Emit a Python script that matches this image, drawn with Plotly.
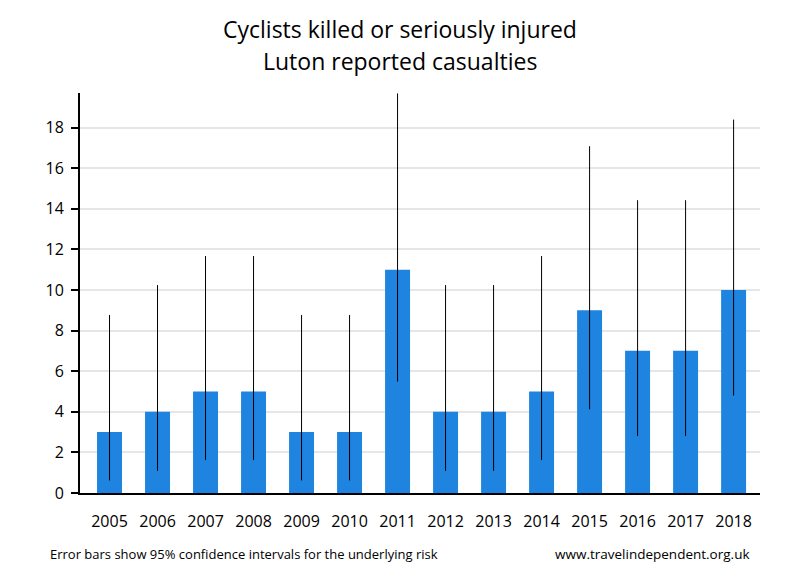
import plotly.graph_objects as go

years = ["2005", "2006", "2007", "2008", "2009", "2010", "2011",
         "2012", "2013", "2014", "2015", "2016", "2017", "2018"]
casualties = [3, 4, 5, 5, 3, 3, 11, 4, 4, 5, 9, 7, 7, 10]
ci_upper = [8.77, 10.24, 11.67, 11.67, 8.77, 8.77, 19.68,
            10.24, 10.24, 11.67, 17.08, 14.42, 14.42, 18.39]
ci_lower = [0.62, 1.09, 1.62, 1.62, 0.62, 0.62, 5.49,
            1.09, 1.09, 1.62, 4.12, 2.81, 2.81, 4.80]
y_ticks = [0, 2, 4, 6, 8, 10, 12, 14, 16, 18]

err_plus = [u - v for u, v in zip(ci_upper, casualties)]
err_minus = [v - l for v, l in zip(casualties, ci_lower)]

FONT = "Open Sans"
OFF = 8  # page body margin offset
W, H = 800 - OFF, 580 - OFF
L, R, T, B = 80 - OFF, 40, 93 - OFF, 87

fig = go.Figure()
fig.add_trace(go.Bar(
    x=years, y=casualties,
    marker=dict(color="#1f83e0", line=dict(width=0)),
    width=0.52,
    error_y=dict(type="data", symmetric=False, array=err_plus, arrayminus=err_minus,
                 width=0, thickness=1, color="black"),
    hoverinfo="x+y",
))

fig.update_layout(
    width=W, height=H,
    margin=dict(l=L, r=R, t=T, b=B),
    paper_bgcolor="white", plot_bgcolor="white",
    showlegend=False,
    font=dict(family=FONT, color="black"),
    xaxis=dict(
        type="category", range=[-0.615, 13.55],
        showline=True, linecolor="black", linewidth=2,
        showgrid=False, ticks="", ticklabelstandoff=13,
        tickfont=dict(size=16, family=FONT, color="black"),
    ),
    yaxis=dict(
        range=[0, 19.7], tickvals=y_ticks,
        showline=True, linecolor="black", linewidth=2,
        showgrid=True, gridcolor="#e6e6e6", gridwidth=2,
        ticks="outside", ticklen=7, tickwidth=2, tickcolor="black",
        ticklabelstandoff=4,
        zeroline=False,
        tickfont=dict(size=16, family=FONT, color="black"),
    ),
)

# place text using reference pixel coordinates
def px_x(px):
    return (px - OFF - L) / (W - L - R)

def px_y(py):
    return (H - B - (py - OFF)) / (H - T - B)

fig.add_annotation(text="Cyclists killed or seriously injured", x=px_x(400), y=px_y(29),
                   xref="paper", yref="paper", xanchor="center", yanchor="middle",
                   showarrow=False, font=dict(size=23, family=FONT, color="black"))
fig.add_annotation(text="Luton reported casualties", x=px_x(400), y=px_y(61),
                   xref="paper", yref="paper", xanchor="center", yanchor="middle",
                   showarrow=False, font=dict(size=23, family=FONT, color="black"))
fig.add_annotation(text="Error bars show 95% confidence intervals for the underlying risk",
                   x=px_x(48), y=px_y(554), xref="paper", yref="paper",
                   xanchor="left", yanchor="middle", showarrow=False,
                   font=dict(size=13, family=FONT, color="black"))
fig.add_annotation(text="www.travelindependent.org.uk",
                   x=px_x(752), y=px_y(554), xref="paper", yref="paper",
                   xanchor="right", yanchor="middle", showarrow=False,
                   font=dict(size=13.5, family=FONT, color="black"))

fig.write_html("out.html")
